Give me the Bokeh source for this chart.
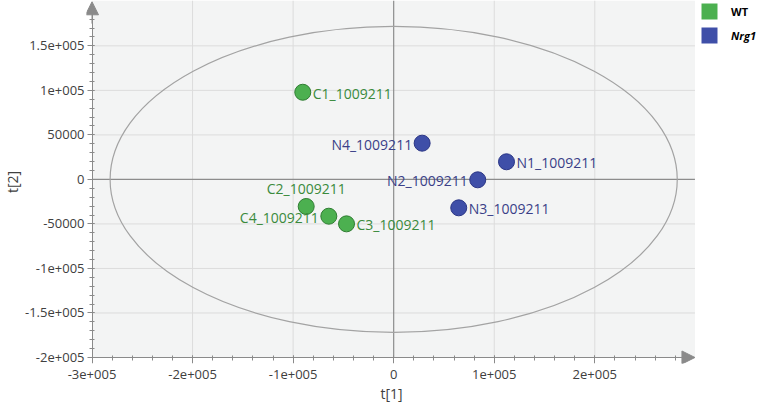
import math
from bokeh.plotting import figure
from bokeh.models import (ColumnDataSource, FixedTicker, Arrow, NormalHead,
                          Legend, LegendItem, LinearAxis, Title)
from bokeh.core.properties import value
from bokeh.embed import file_html
from bokeh.resources import INLINE

# ---------------- data ----------------
samples = ["C1_1009211", "C2_1009211", "C3_1009211", "C4_1009211",
           "N1_1009211", "N2_1009211", "N3_1009211", "N4_1009211"]
groups = ["WT", "WT", "WT", "WT", "Nrg1", "Nrg1", "Nrg1", "Nrg1"]
t1 = [-90400, -87000, -46900, -64500, 112200, 83600, 64700, 28300]
t2 = [97900, -30400, -49900, -41300, 19800, -450, -31900, 40700]

legend_labels = ["WT", "Nrg1"]

x_ticks = [-300000, -200000, -100000, 0, 100000, 200000]
x_tick_labels = ["-3e+005", "-2e+005", "-1e+005", "0", "1e+005", "2e+005"]
y_ticks = [-200000, -150000, -100000, -50000, 0, 50000, 100000, 150000]
y_tick_labels = ["-2e+005", "-1.5e+005", "-1e+005", "-50000", "0", "50000",
                 "1e+005", "1.5e+005"]

# Hotelling T2 ellipse semi-axes
ellipse_semi_t1 = 282000
ellipse_semi_t2 = 171800

# ---------------- styles ----------------
FONT = "Open Sans"
AXIS_GRAY = "#8a8a8a"
GRID = "#dcdcdc"
ZERO = "#8c8c8c"
BG = "#f3f4f4"
TXT = "#404040"
fill_col = {"WT": "#4cb050", "Nrg1": "#3f4fa8"}
line_col = {"WT": "#2f7d32", "Nrg1": "#2b3686"}
text_col = {"WT": "#3a8a3c", "Nrg1": "#3a3f88"}
label_side = {"C1_1009211": "right", "C2_1009211": "above", "C3_1009211": "right",
              "C4_1009211": "left", "N1_1009211": "right", "N2_1009211": "left",
              "N3_1009211": "right", "N4_1009211": "left"}

# axes cross at the lower-left corner of the shaded area
AX_X, AX_Y = -300000, -200000
X0, X1 = -305470, 364780
Y0, Y1 = -206740, 200940
BG_RIGHT = 299600
BG_TOP = Y1

p = figure(width=760, height=406, x_range=(X0, X1), y_range=(Y0, Y1),
           output_backend="svg", toolbar_location=None,
           min_border_left=86, min_border_right=0, min_border_top=0,
           min_border_bottom=43)
p.outline_line_color = None
p.background_fill_color = "white"
p.border_fill_color = "white"
p.xgrid.visible = False
p.ygrid.visible = False

# plot background
p.quad(left=[AX_X], right=[BG_RIGHT], bottom=[AX_Y], top=[BG_TOP], fill_color=BG,
       line_color=None)

# grid lines
gx = [t for t in x_ticks if t not in (0, AX_X)]
p.segment(x0=gx, y0=[AX_Y] * len(gx), x1=gx, y1=[BG_TOP] * len(gx), line_color=GRID,
          line_width=1)
gy = [t for t in y_ticks if t not in (0, AX_Y)]
p.segment(x0=[AX_X] * len(gy), y0=gy, x1=[BG_RIGHT] * len(gy), y1=gy, line_color=GRID,
          line_width=1)
# zero lines
p.segment(x0=[0, AX_X], y0=[AX_Y, 0], x1=[0, BG_RIGHT], y1=[BG_TOP, 0], line_color=ZERO,
          line_width=1.2)

# ellipse
p.ellipse(x=[0], y=[0], width=[2 * ellipse_semi_t1], height=[2 * ellipse_semi_t2],
          fill_color=None, line_color="#a3a3a3", line_width=1.2)

# points
src = ColumnDataSource(dict(t1=t1, t2=t2, name=samples,
                            fill=[fill_col[g] for g in groups],
                            line=[line_col[g] for g in groups]))
p.scatter(x="t1", y="t2", source=src, size=16, fill_color="fill", line_color="line",
          line_width=1)

# labels
side_style = {"right": dict(align="left", dx=10, dy=1),
              "left": dict(align="right", dx=-10, dy=1),
              "above": dict(align="center", dx=0, dy=-18)}
for side, st in side_style.items():
    idx = [i for i, s in enumerate(samples) if label_side[s] == side]
    s = ColumnDataSource(dict(t1=[t1[i] for i in idx], t2=[t2[i] for i in idx],
                              name=[samples[i] for i in idx],
                              tcol=[text_col[groups[i]] for i in idx]))
    p.text(x="t1", y="t2", text="name", source=s, text_align=st["align"],
           text_baseline="middle", x_offset=st["dx"], y_offset=st["dy"],
           text_font=value(FONT), text_font_size="14px", text_color="tcol")

# ---- label-only axes at the frame edges (tick labels + y title) ----
for ax, ticks, labels in ((p.xaxis[0], x_ticks, x_tick_labels),
                          (p.yaxis[0], y_ticks, y_tick_labels)):
    ax.ticker = FixedTicker(ticks=ticks, minor_ticks=[])
    ax.major_label_overrides = {t: s for t, s in zip(ticks, labels)}
    ax.axis_line_color = None
    ax.major_tick_line_color = None
    ax.minor_tick_line_color = None
    ax.major_tick_in = 0
    ax.major_tick_out = 0
    ax.minor_tick_in = 0
    ax.minor_tick_out = 0
    ax.major_label_text_font = FONT
    ax.major_label_text_font_size = "13px"
    ax.major_label_text_color = TXT
    ax.axis_label_text_font = FONT
    ax.axis_label_text_font_size = "14px"
    ax.axis_label_text_font_style = "normal"
    ax.axis_label_text_color = TXT
    ax.axis_label_standoff = 0
p.yaxis.axis_label = "t[2]"
p.xaxis.major_label_standoff = 6
p.yaxis.major_label_standoff = 2

# x title placed under the zero tick
p.add_layout(Title(text="t[1]", align="left", offset=294, standoff=0, text_font=FONT,
                   text_font_size="14px", text_font_style="normal", text_color=TXT),
             "below")

# ---- line + tick axes located at the origin corner ----
xl = LinearAxis(fixed_location=AX_Y, bounds=(AX_X, 285000),
                ticker=FixedTicker(ticks=x_ticks,
                                   minor_ticks=list(range(-300000, 290000, 20000))),
                major_label_overrides={t: "" for t in x_ticks},
                major_tick_in=2, major_tick_out=6, minor_tick_in=2, minor_tick_out=3)
yl = LinearAxis(fixed_location=AX_X, bounds=(AX_Y, 190000),
                ticker=FixedTicker(ticks=y_ticks,
                                   minor_ticks=list(range(-200000, 190000, 10000))),
                major_label_overrides={t: "" for t in y_ticks},
                major_tick_in=2, major_tick_out=5, minor_tick_in=2, minor_tick_out=3)
for ax in (xl, yl):
    ax.axis_line_color = AXIS_GRAY
    ax.major_tick_line_color = AXIS_GRAY
    ax.minor_tick_line_color = AXIS_GRAY
    ax.major_label_text_alpha = 0
p.add_layout(xl, "below")
p.add_layout(yl, "left")

# axis arrows
p.add_layout(Arrow(end=NormalHead(size=13, fill_color=AXIS_GRAY, line_color=AXIS_GRAY),
                   x_start=270000, y_start=AX_Y, x_end=BG_RIGHT, y_end=AX_Y,
                   line_color=AXIS_GRAY, line_width=1))
p.add_layout(Arrow(end=NormalHead(size=13, fill_color=AXIS_GRAY, line_color=AXIS_GRAY),
                   x_start=AX_X, y_start=175000, x_end=AX_X, y_end=199500,
                   line_color=AXIS_GRAY, line_width=1))

# legend (square swatches)
nan = float("nan")
r_wt = p.quad(left=[nan], right=[nan], top=[nan], bottom=[nan],
              fill_color=fill_col["WT"], line_color=None)
r_n = p.quad(left=[nan], right=[nan], top=[nan], bottom=[nan],
             fill_color=fill_col["Nrg1"], line_color=None)
for lab, r, loc, style in ((legend_labels[0], r_wt, (613, 342), "bold"),
                           (legend_labels[1], r_n, (613, 318), "bold italic")):
    leg = Legend(items=[LegendItem(label=lab, renderers=[r])], location=loc,
                 padding=0, margin=0, spacing=0, glyph_width=20, glyph_height=20,
                 label_height=20, label_standoff=12, border_line_color=None,
                 background_fill_alpha=0, label_text_font=FONT,
                 label_text_font_size="11px", label_text_font_style=style,
                 label_text_color="#000000")
    p.add_layout(leg)

open("out.html", "w").write(file_html(p, INLINE))
